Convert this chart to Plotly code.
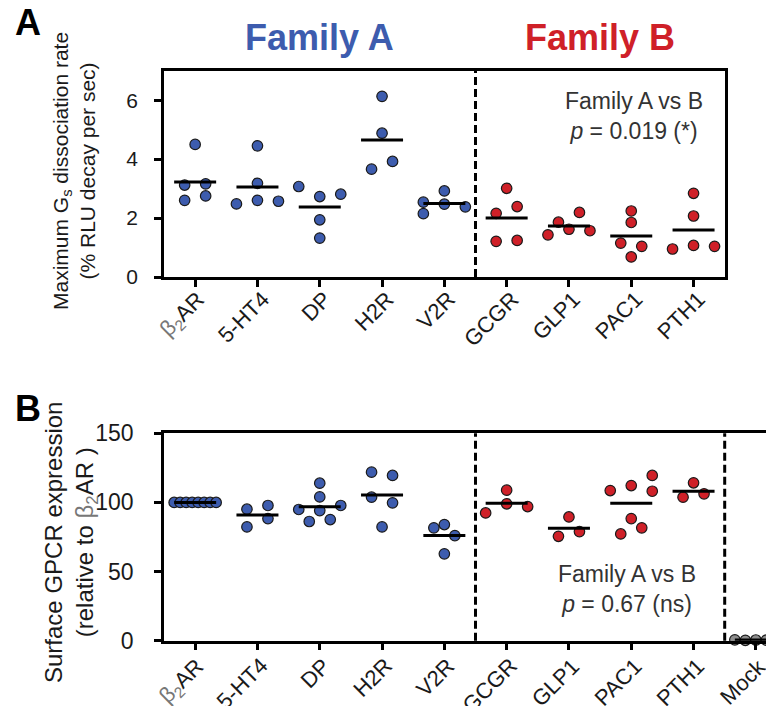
import numpy as np
import plotly.graph_objects as go

# ---------------- data ----------------
cats_a = ["β2AR", "5-HT4", "DP", "H2R", "V2R", "GCGR", "GLP1", "PAC1", "PTH1"]
cats_b = cats_a + ["Mock"]
n_family_a = 5  # first five receptors are Family A

# Panel A: maximum Gs dissociation rate (% RLU decay per sec)
a_b2ar = [4.50, 3.12, 3.16, 2.60, 2.75]
a_5ht4 = [4.45, 3.18, 2.48, 2.60, 2.57]
a_dp = [3.07, 2.73, 2.81, 1.94, 1.32]
a_h2r = [6.13, 4.88, 3.66, 3.92]
a_v2r = [2.54, 2.92, 2.15, 2.47, 2.38]
a_gcgr = [3.01, 2.16, 2.39, 1.21, 1.24]
a_glp1 = [1.86, 2.19, 1.43, 1.62, 1.57]
a_pac1 = [2.24, 1.85, 1.15, 1.04, 0.68]
a_pth1 = [2.84, 2.07, 0.95, 1.07, 1.04]

# Panel B: surface GPCR expression (relative to β2AR)
b_b2ar = [100, 100, 100, 100, 100, 100, 100, 100]
b_5ht4 = [95.1, 97.8, 82.3, 88.3]
b_dp = [113.9, 104.0, 94.9, 94.1, 97.8, 86.2, 87.6]
b_h2r = [121.9, 119.5, 103.8, 99.7, 82.3]
b_v2r = [81.6, 84.0, 76.0, 62.8]
b_gcgr = [108.9, 92.4, 99.0, 97.0]
b_glp1 = [89.5, 75.5, 78.9]
b_pac1 = [108.6, 112.2, 119.5, 108.1, 77.2, 88.3, 81.6]
b_pth1 = [114.2, 103.8, 106.2]
b_mock = [0.6, 0.3, 0.5, 0.4, 0.7]

yticks_a = [0, 2, 4, 6]
yticks_b = [0, 50, 100, 150]

panel_a = [a_b2ar, a_5ht4, a_dp, a_h2r, a_v2r, a_gcgr, a_glp1, a_pac1, a_pth1]
panel_b = [b_b2ar, b_5ht4, b_dp, b_h2r, b_v2r, b_gcgr, b_glp1, b_pac1, b_pth1, b_mock]

# ---------------- layout geometry (pixels) ----------------
W, H = 774, 706
def xp(px):
    return px / W
def yp(py):
    return 1 - py / H

A_left, A_right, A_top, A_bot = 156, 716.7, 62.7, 269
B_left, B_right, B_top, B_bot = 156, 774, 425.3, 632.7
A_ymax, B_ymax = 7, 150

px_per_cat = (A_right - A_left) / len(cats_a)
xr_a = [-0.5, len(cats_a) - 0.5]
xr_b = [-0.5, -0.5 + (B_right - B_left) / px_per_cat]
ppu_a = (A_bot - A_top) / A_ymax
ppu_b = (B_bot - B_top) / B_ymax

BLUE = "#3d5cae"
RED = "#cf2028"
GRAY = "#8e8e8e"
EDGE = "#1a1a1a"
FONT = "Liberation Sans, Arial, Helvetica, sans-serif"


def swarm(values, ppu, S=21.0, Wmax=21.0, T=10.5, D=11.0):
    """Prism-like row scatter: returns x offsets in pixels."""
    v = np.asarray(values, float)
    order = np.argsort(v, kind="stable")
    rows, cur = [], [order[0]]
    for i in order[1:]:
        if (v[i] - v[cur[0]]) * ppu < T:
            cur.append(i)
        else:
            rows.append(cur)
            cur = [i]
    rows.append(cur)
    offs = np.zeros(len(v))
    placed = []
    for row in rows:
        mem = sorted(row)
        k = len(mem)
        if (k - 1) * S / 2 > Wmax:
            base = np.linspace(-Wmax, Wmax, k)
        else:
            base = (np.arange(k) - (k - 1) / 2) * S
        for shift in [0, S, -S, 2 * S, -2 * S]:
            ok = True
            for b, m in zip(base, mem):
                for (px, py) in placed:
                    if np.hypot(b + shift - px, v[m] * ppu - py) < D:
                        ok = False
                        break
                if not ok:
                    break
            if ok:
                break
        for b, m in zip(base, mem):
            offs[m] = b + shift
            placed.append((b + shift, v[m] * ppu))
    return offs


fig = go.Figure()


def add_panel(data, ppu, xa, ya, colors):
    for i, vals in enumerate(data):
        offs = swarm(vals, ppu) / px_per_cat
        fig.add_trace(go.Scatter(
            x=i + offs, y=vals, mode="markers", xaxis=xa, yaxis=ya,
            marker=dict(size=10.5, color=colors[i], line=dict(color=EDGE, width=1.2)),
            cliponaxis=False, showlegend=False, hoverinfo="y"))
    half = 21 / px_per_cat
    for i, vals in enumerate(data):
        m = float(np.mean(vals))
        fig.add_trace(go.Scatter(
            x=[i - half, i + half], y=[m, m], mode="lines", xaxis=xa, yaxis=ya,
            line=dict(color="black", width=3), cliponaxis=False,
            showlegend=False, hoverinfo="skip"))


colors_a = [BLUE] * n_family_a + [RED] * (len(cats_a) - n_family_a)
colors_b = colors_a + [GRAY]
add_panel(panel_a, ppu_a, "x", "y", colors_a)
add_panel(panel_b, ppu_b, "x2", "y2", colors_b)


def label_html(t):
    if t.startswith("β2"):
        return "<span style='color:#777'>β<sub>2</sub></span>AR"
    return t


axis_common = dict(showline=True, linewidth=2.5, linecolor="black", ticks="outside",
                   ticklen=7, tickwidth=2.5, tickcolor="black", showgrid=False,
                   zeroline=False, automargin=False)

fig.update_layout(
    template="none",
    width=W, height=H, margin=dict(l=0, r=0, t=0, b=0, autoexpand=False),
    paper_bgcolor="white", plot_bgcolor="white",
    font=dict(family=FONT, color="#1a1a1a"),
    xaxis=dict(domain=[xp(A_left), xp(A_right)], range=xr_a, anchor="y",
               tickmode="array", tickvals=list(range(len(cats_a))),
               showticklabels=False, mirror=True, **axis_common),
    yaxis=dict(domain=[yp(A_bot), yp(A_top)], range=[0, A_ymax], anchor="x",
               tickmode="array", tickvals=yticks_a, tickfont=dict(size=21), mirror=True,
               ticklabelstandoff=12, **axis_common),
    xaxis2=dict(domain=[xp(B_left), xp(B_right)], range=xr_b, anchor="y2",
                tickmode="array", tickvals=list(range(len(cats_b))),
                showticklabels=False, mirror=True, **axis_common),
    yaxis2=dict(domain=[yp(B_bot), yp(B_top)], range=[0, B_ymax], anchor="x2",
                tickmode="array", tickvals=yticks_b, tickfont=dict(size=23),
                ticklabelstandoff=16, **axis_common),
)

# dashed separators
for xa, ya, seps in [("x", "y", [n_family_a - 0.5]),
                     ("x2", "y2", [n_family_a - 0.5, len(cats_a) - 0.5])]:
    for s in seps:
        fig.add_shape(type="line", xref=xa, yref=f"{ya} domain", x0=s, x1=s, y0=0, y1=1,
                      line=dict(color="black", width=3, dash="8px,4px"))

ann = []
# rotated category labels (end of text at the tick)
for xa, cats, axis_y, dx in [("x", cats_a, A_bot + 7, 19), ("x2", cats_b, B_bot + 10, 18)]:
    for i, c in enumerate(cats):
        ann.append(dict(text=label_html(c), x=i + dx / px_per_cat, xref=xa,
                        y=yp(axis_y), yref="paper", textangle=-45, showarrow=False,
                        xanchor="right", yanchor="top",
                        font=dict(size=22, color="#1a1a1a")))

ann.append(dict(text="<b>A</b>", x=xp(5), y=yp(15), xref="paper", yref="paper",
                xanchor="left", yanchor="middle", showarrow=False,
                font=dict(size=36, family="Liberation Sans Narrow, " + FONT, color="black")))
ann.append(dict(text="<b>B</b>", x=xp(5), y=yp(400), xref="paper", yref="paper",
                xanchor="left", yanchor="middle", showarrow=False,
                font=dict(size=36, family="Liberation Sans Narrow, " + FONT, color="black")))
ann.append(dict(text="<b>Family A</b>", x=(n_family_a - 1) / 2, xref="x", y=yp(30), yref="paper",
                showarrow=False, xanchor="center", yanchor="middle",
                font=dict(size=36, color=BLUE)))
ann.append(dict(text="<b>Family B</b>", x=(n_family_a + len(cats_a) - 1) / 2, xref="x",
                y=yp(30), yref="paper", showarrow=False, xanchor="center", yanchor="middle",
                font=dict(size=36, color=RED)))
ann.append(dict(text="Maximum G<sub>s</sub> dissociation rate<br>(% RLU decay per sec)",
                x=xp(66), y=yp(163), xref="paper", yref="paper", textangle=-90,
                showarrow=False, xanchor="center", yanchor="middle",
                font=dict(size=21, color="#1a1a1a")))
ann.append(dict(text="Surface GPCR expression<br>(relative to <span style='color:#777'>β<sub>2</sub></span>AR )",
                x=xp(63), y=yp(535), xref="paper", yref="paper", textangle=-90,
                showarrow=False, xanchor="center", yanchor="middle",
                font=dict(size=24, color="#1a1a1a")))
ann.append(dict(text="Family A vs B<br><i>p</i> = 0.019 (*)", x=xp(626), y=yp(108),
                xref="paper", yref="paper", showarrow=False, align="center",
                xanchor="center", yanchor="middle", font=dict(size=23, color="#333")))
ann.append(dict(text="Family A vs B<br><i>p</i> = 0.67 (ns)", x=xp(619), y=yp(581),
                xref="paper", yref="paper", showarrow=False, align="center",
                xanchor="center", yanchor="middle", font=dict(size=23, color="#333")))
fig.update_layout(annotations=ann)

fig.write_html("out.html")
